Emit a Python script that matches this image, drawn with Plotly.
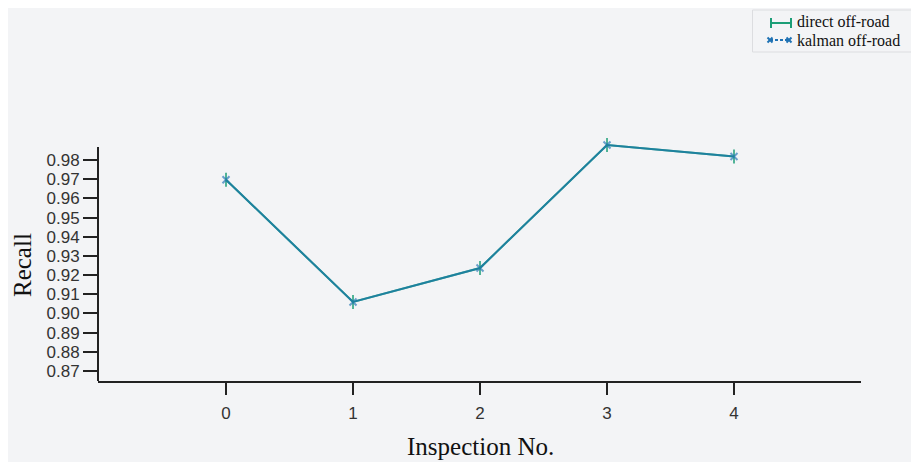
import plotly.graph_objects as go

inspection = [0, 1, 2, 3, 4]
direct_recall = [0.9697, 0.9060, 0.9237, 0.9878, 0.9818]
kalman_recall = [0.9697, 0.9060, 0.9237, 0.9878, 0.9818]
y_ticks = [0.87, 0.88, 0.89, 0.90, 0.91, 0.92, 0.93, 0.94, 0.95, 0.96, 0.97, 0.98]
y_ticktext = ["%.2f" % v for v in y_ticks]

W, H = 908, 454
ML, MR, MT, MB = 90, 55, 122, 81
PW, PH = W - ML - MR, H - MT - MB
OX, OY = 8, 8  # page offset

def px(x):
    return (x - OX - ML) / PW

def py(y):
    return (H - MB - (y - OY)) / PH

GREEN = "#1b9e77"
BLUE = "#1f72b4"
BG = "#f3f4f6"

fig = go.Figure()
fig.add_trace(go.Scatter(
    x=inspection, y=direct_recall, name="direct off-road", mode="lines+markers",
    line=dict(color=GREEN, width=2),
    marker=dict(symbol="line-ns-open", size=10, line=dict(color=GREEN, width=1.5)),
    cliponaxis=False, showlegend=False))
fig.add_trace(go.Scatter(
    x=inspection, y=kalman_recall, name="kalman off-road", mode="lines+markers",
    line=dict(color=BLUE, width=2),
    opacity=0.65,
    marker=dict(symbol="x-thin-open", size=7, line=dict(color=BLUE, width=2)),
    cliponaxis=False, showlegend=False))

axis_color = "#222222"
fig.update_xaxes(range=[-1.008, 5.0], tickvals=inspection, ticktext=[str(i) for i in inspection],
                 showgrid=False, zeroline=False, showline=True, linecolor=axis_color, linewidth=2,
                 ticks="outside", ticklen=12, tickwidth=1.5, tickcolor=axis_color,
                 ticklabelstandoff=4,
                 tickfont=dict(family="Liberation Sans", size=17, color="#333333"))
fig.update_yaxes(range=[0.86479, 0.99564], tickvals=y_ticks, ticktext=y_ticktext,
                 showgrid=False, zeroline=False, showline=False,
                 ticks="outside", ticklen=14, tickwidth=1.5, tickcolor=axis_color,
                 tickfont=dict(family="Liberation Sans", size=17, color="#333333"))

shapes = []
# y axis line (shortened)
shapes.append(dict(type="line", xref="paper", yref="y", x0=0, x1=0, y0=0.86479, y1=0.98678,
                   line=dict(color=axis_color, width=2)))
# legend box
shapes.append(dict(type="rect", xref="paper", yref="paper", x0=px(752.5), x1=px(917), y0=py(52), y1=py(10),
                   line=dict(color="#dcdde0", width=1), fillcolor=BG, layer="above"))
# legend symbol 1: |-|
shapes.append(dict(type="line", xref="paper", yref="paper", x0=px(771), x1=px(791), y0=py(23), y1=py(23),
                   line=dict(color=GREEN, width=2), layer="above"))
for xx in (771, 791):
    shapes.append(dict(type="line", xref="paper", yref="paper", x0=px(xx), x1=px(xx), y0=py(18), y1=py(28),
                       line=dict(color=GREEN, width=2), layer="above"))
# legend symbol 2: x--x
shapes.append(dict(type="line", xref="paper", yref="paper", x0=px(770), x1=px(789), y0=py(40), y1=py(40),
                   line=dict(color=BLUE, width=2, dash="3px,2px"), layer="above"))
for xx in (770, 789):
    shapes.append(dict(type="line", xref="paper", yref="paper", x0=px(xx - 2.5), x1=px(xx + 2.5), y0=py(37.5), y1=py(42.5),
                       line=dict(color=BLUE, width=2), layer="above"))
    shapes.append(dict(type="line", xref="paper", yref="paper", x0=px(xx - 2.5), x1=px(xx + 2.5), y0=py(42.5), y1=py(37.5),
                       line=dict(color=BLUE, width=2), layer="above"))

serif = "Liberation Serif"
annotations = [
    dict(text="direct off-road", xref="paper", yref="paper", x=px(796), y=py(22), xanchor="left", yanchor="middle",
         showarrow=False, borderpad=0, font=dict(family=serif, size=16, color="#111111")),
    dict(text="kalman off-road", xref="paper", yref="paper", x=px(796), y=py(40), xanchor="left", yanchor="middle",
         showarrow=False, borderpad=0, font=dict(family=serif, size=16, color="#111111")),
    dict(text="Inspection No.", xref="paper", yref="paper", x=px(480), y=py(446), xanchor="center", yanchor="middle",
         showarrow=False, font=dict(family=serif, size=25, color="#111111")),
    dict(text="Recall", xref="paper", yref="paper", x=px(22), y=py(265), xanchor="center", yanchor="middle",
         textangle=-90, showarrow=False, font=dict(family=serif, size=25, color="#111111")),
]

fig.update_layout(width=W, height=H, margin=dict(l=ML, r=MR, t=MT, b=MB),
                  paper_bgcolor=BG, plot_bgcolor=BG, showlegend=False,
                  shapes=shapes, annotations=annotations)

fig.write_html("out.html")
